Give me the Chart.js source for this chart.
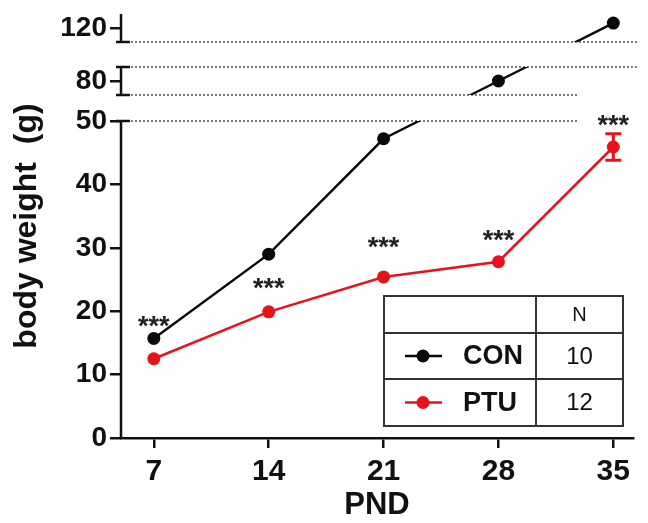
<!DOCTYPE html>
<html>
<head>
<meta charset="utf-8">
<script src="https://cdn.jsdelivr.net/npm/chart.js@4.4.1/dist/chart.umd.min.js"></script>
<style>
  html, body { margin: 0; padding: 0; background: #fff; }
  #wrap { width: 648px; height: 523px; }
</style>
</head>
<body>
<div id="wrap"><canvas id="myChart"></canvas></div>
<script>
// values
const days = [7, 14, 21, 28, 35];
const conWeight = [15.7, 29.0, 47.2, 80.0, 123.5];
const ptuWeight = [12.5, 19.9, 25.4, 27.8, 45.9];
const conError = [0.3, 0.4, 0.5, 0.8, 1.0];
const ptuError = [0.3, 0.4, 0.5, 0.5, 2.1];
const starLevel = [18.3, 24.3, 30.8, 32.0, 50.2];   // where the *** sit (g)
const groupNames = ['CON', 'PTU'];
const groupN = [10, 12];
const yTicks = [0, 10, 20, 30, 40, 50, 80, 120];
const ySegments = [[0, 50], [70, 90], [110, 130]];

const BLACK = '#0a0a0a';
const RED = '#e8121a';

Chart.defaults.font.family = '"Liberation Sans", Arial, sans-serif';
Chart.defaults.color = '#111';

// linear scale split into pieces with gaps between them (like a Prism broken axis)
class BrokenScale extends Chart.LinearScale {
    getPixelForValue(value) {
        if (value === null || value === undefined) return NaN;
        const br = this.options.broken;
        const segs = br.segments, sizes = br.sizes, gaps = br.gaps;
        const total = sizes.concat(gaps).reduce((a, b) => a + b, 0);
        const k = (this.bottom - this.top) / total;
        let y = this.bottom;
        for (let i = 0; i < segs.length; i++) {
            const a = segs[i][0], b = segs[i][1];
            const h = sizes[i] * k;
            if (value <= b || i === segs.length - 1) return y - (value - a) / (b - a) * h;
            y -= h;
            const g = gaps[i] * k;
            const next = segs[i + 1][0];
            if (value < next) return y - (value - b) / (next - b) * g;
            y -= g;
        }
        return y;
    }
}
BrokenScale.id = 'broken';
BrokenScale.defaults = {};
Chart.register(BrokenScale);

function segClip(chart) {
    const y = chart.scales.y;
    const ctx = chart.ctx;
    ctx.beginPath();
    ySegments.forEach((s, i) => {
        let top = y.getPixelForValue(s[1]);
        let bot = y.getPixelForValue(s[0]);
        if (i === 0) bot = chart.height;
        if (i === ySegments.length - 1) top = 0;
        ctx.rect(0, top, chart.width, bot - top);
    });
    ctx.clip();
}

function drawErrors(ctx, xs, ys, vals, errs, color, radius) {
    ctx.strokeStyle = color;
    ctx.lineWidth = 3;
    vals.forEach((v, i) => {
        const x = xs.getPixelForValue(days[i]);
        const t = ys.getPixelForValue(v + errs[i]);
        const b = ys.getPixelForValue(v - errs[i]);
        if ((b - t) / 2 <= radius) return;
        ctx.beginPath();
        ctx.moveTo(x, t); ctx.lineTo(x, b);
        ctx.moveTo(x - 8, t); ctx.lineTo(x + 8, t);
        ctx.moveTo(x - 8, b); ctx.lineTo(x + 8, b);
        ctx.stroke();
    });
}

const brokenAxis = {
    id: 'brokenAxis',
    beforeDatasetsDraw(chart) {
        const {ctx, chartArea} = chart;
        const xs = chart.scales.x, ys = chart.scales.y;
        const x0 = chartArea.left;

        // dotted lines at the breaks
        ctx.save();
        ctx.strokeStyle = '#333';
        ctx.lineWidth = 1.3;
        ctx.setLineDash([2, 2]);
        for (let i = 0; i < ySegments.length - 1; i++) {
            const lower = ys.getPixelForValue(ySegments[i][1]);
            const upper = ys.getPixelForValue(ySegments[i + 1][0]);
            const end = i === 0 ? chartArea.right - 56 : chartArea.right + 6;
            [lower, upper].forEach(py => {
                ctx.beginPath();
                ctx.moveTo(x0 + 10, py);
                ctx.lineTo(end, py);
                ctx.stroke();
            });
        }
        ctx.restore();

        ctx.save();
        drawErrors(ctx, xs, ys, conWeight, conError, BLACK, 6.5);
        drawErrors(ctx, xs, ys, ptuWeight, ptuError, RED, 6.5);
        ctx.restore();

        ctx.save();
        segClip(chart);
    },
    afterDatasetsDraw(chart) {
        const {ctx, chartArea} = chart;
        ctx.restore();
        const xs = chart.scales.x, ys = chart.scales.y;
        const x0 = chartArea.left;

        // broken y axis line with caps
        ctx.save();
        ctx.strokeStyle = '#111';
        ctx.lineWidth = 2.5;
        ySegments.forEach((s, i) => {
            const bot = ys.getPixelForValue(s[0]);
            const top = ys.getPixelForValue(s[1]);
            ctx.beginPath();
            ctx.moveTo(x0, bot + (i === 0 ? 1 : 0));
            ctx.lineTo(x0, top);
            ctx.stroke();
            ctx.beginPath();
            if (i > 0) { ctx.moveTo(x0 - 5, bot); ctx.lineTo(x0 + 9, bot); }
            if (i < ySegments.length - 1) { ctx.moveTo(x0 - 5, top); ctx.lineTo(x0 + 9, top); }
            ctx.stroke();
        });

        // significance stars
        ctx.fillStyle = '#222';
        ctx.font = 'bold 27px "Liberation Sans", Arial, sans-serif';
        ctx.textAlign = 'center';
        ctx.textBaseline = 'middle';
        starLevel.forEach((lv, i) => {
            ctx.fillText('***', xs.getPixelForValue(days[i]), ys.getPixelForValue(lv) + 6);
        });

        // legend table
        const right = chartArea.right - 10;
        const bottom = chartArea.bottom - 12;
        const w = 239, rows = [37, 46, 47], colW = 87;
        const h = rows.reduce((a, b) => a + b, 0);
        const left = right - w, top = bottom - h;
        ctx.strokeStyle = '#333';
        ctx.lineWidth = 2;
        ctx.strokeRect(left, top, w, h);
        ctx.beginPath();
        ctx.moveTo(right - colW, top); ctx.lineTo(right - colW, bottom);
        let ry = top;
        for (let r = 0; r < rows.length - 1; r++) {
            ry += rows[r];
            ctx.moveTo(left, ry); ctx.lineTo(right, ry);
        }
        ctx.stroke();

        const nx = right - colW / 2;
        ctx.fillStyle = '#111';
        ctx.textAlign = 'center';
        ctx.font = '20px "Liberation Sans", Arial, sans-serif';
        ctx.fillText('N', nx, top + rows[0] / 2 + 1);

        ry = top + rows[0];
        groupNames.forEach((name, i) => {
            const cy = ry + rows[i + 1] / 2;
            const col = chart.data.datasets[i].borderColor;
            ctx.strokeStyle = col;
            ctx.lineWidth = 2.5;
            ctx.beginPath();
            ctx.moveTo(left + 21, cy); ctx.lineTo(left + 58, cy);
            ctx.stroke();
            ctx.fillStyle = col;
            ctx.beginPath();
            ctx.arc(left + 39, cy, 6.5, 0, Math.PI * 2);
            ctx.fill();
            ctx.fillStyle = '#111';
            ctx.textAlign = 'left';
            ctx.font = 'bold 27px "Liberation Sans", Arial, sans-serif';
            ctx.fillText(name, left + 79, cy + 1);
            ctx.textAlign = 'center';
            ctx.font = '24px "Liberation Sans", Arial, sans-serif';
            ctx.fillText(String(groupN[i]), nx, cy + 1);
            ry += rows[i + 1];
        });
        ctx.restore();
    }
};

function initChart() {
    const ctx = document.getElementById('myChart').getContext('2d');
    new Chart(ctx, {
        type: 'line',
        data: {
            datasets: [
                {
                    label: groupNames[0],
                    data: days.map((d, i) => ({x: d, y: conWeight[i]})),
                    borderColor: BLACK,
                    backgroundColor: BLACK,
                    pointBackgroundColor: BLACK,
                    borderWidth: 2.5,
                    pointRadius: 6.5,
                    pointBorderWidth: 0,
                    tension: 0,
                    clip: false,
                    order: 1
                },
                {
                    label: groupNames[1],
                    data: days.map((d, i) => ({x: d, y: ptuWeight[i]})),
                    borderColor: RED,
                    backgroundColor: RED,
                    pointBackgroundColor: RED,
                    borderWidth: 2.5,
                    pointRadius: 6.5,
                    pointBorderWidth: 0,
                    tension: 0,
                    clip: false,
                    order: 0
                }
            ]
        },
        options: {
            responsive: true,
            maintainAspectRatio: false,
            animation: false,
            events: [],
            layout: { padding: { top: 14, right: 15, bottom: 0, left: 0 } },
            plugins: { legend: { display: false }, tooltip: { enabled: false } },
            scales: {
                x: {
                    type: 'linear',
                    min: 5,
                    max: 36.2,
                    afterBuildTicks: s => { s.ticks = days.map(v => ({value: v})); },
                    afterFit: s => { s.height = 85; },
                    border: { display: true, color: '#111', width: 2.5 },
                    grid: { drawOnChartArea: false, tickLength: 10, lineWidth: 2.5, color: '#111' },
                    ticks: { color: '#111', font: { size: 30, weight: 'bold' }, padding: 6, maxRotation: 0, autoSkip: false, callback: v => String(v) },
                    title: { display: true, text: 'PND', color: '#111', font: { size: 31, weight: 'bold' }, padding: { top: 0, bottom: -1 } }
                },
                y: {
                    type: 'broken',
                    min: 0,
                    max: 130,
                    broken: { segments: ySegments, sizes: [317, 28, 28], gaps: [26, 25] },
                    afterBuildTicks: s => { s.ticks = yTicks.map(v => ({value: v})); },
                    afterFit: s => { s.width = 121; s.paddingTop = 0; s.paddingBottom = 0; },
                    border: { display: false },
                    grid: { drawOnChartArea: false, drawTicks: true, tickLength: 11, lineWidth: 2.5, color: '#111' },
                    ticks: { color: '#111', font: { size: 28, weight: 'bold' }, padding: 3, callback: v => String(v) },
                    title: { display: true, text: 'body weight  (g)', color: '#111', font: { size: 32, weight: 'bold' }, padding: { top: 8, bottom: 0 } }
                }
            }
        },
        plugins: [brokenAxis]
    });
}

window.onload = initChart;
</script>
</body>
</html>
